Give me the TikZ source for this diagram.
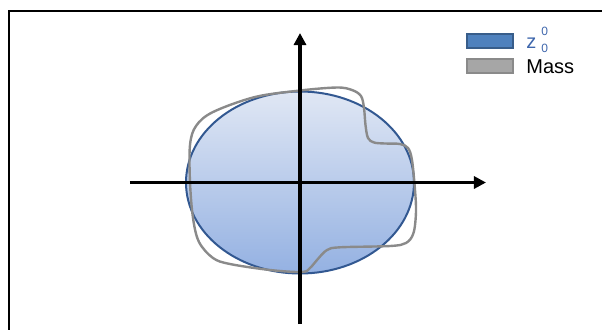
\documentclass[tikz,border=0pt]{standalone}
\usepackage{fontspec}
\setmainfont{Liberation Sans}
\usetikzlibrary{arrows.meta}
\definecolor{ink}{RGB}{0,0,0}
\definecolor{rim}{RGB}{50,88,145}
\definecolor{filltop}{RGB}{224,231,244}
\definecolor{fillbot}{RGB}{148,177,226}
\definecolor{mass}{RGB}{138,138,138}
\definecolor{massfill}{RGB}{166,166,166}
\definecolor{legblue}{RGB}{79,129,189}
\definecolor{legrim}{RGB}{56,93,138}
\definecolor{labblue}{RGB}{62,102,172}
\tikzset{
  every picture/.style={color=ink, font=\fontsize{10}{12}\selectfont},
  frame/.style={draw=ink, line width=1pt},
  axis/.style={-{Triangle[length=6pt,width=6pt]}, line width=1.7pt},
  shape0/.style={draw=rim, line width=1pt, top color=filltop, bottom color=fillbot},
  massline/.style={draw=mass, line width=1.2pt},
  swatch/.style={minimum width=23pt, minimum height=7pt, inner sep=0pt, line width=1pt},
  key/.style={anchor=west, inner sep=0pt},
}
\begin{document}
\begin{tikzpicture}[x=0.5pt, y=-0.5pt]
  \useasboundingbox (0,0) rectangle (602,329);
  % frame (right and bottom edges fall outside)
  \draw[frame] (9.5,340) -- (9.5,11) -- (610,11);
  % z_0^0 region
  \path[shape0] (300,182.5) ellipse [x radius=114, y radius=91];
  % mass outline
  \draw[massline] plot[smooth cycle, tension=0.55] coordinates {
    (300,90.5) (337,87.5) (352,90) (361,96) (364,108) (365.5,125) (368,138)
    (374,142.5) (385,143.5) (400,144) (408,148) (412,160) (415,190) (416,212)
    (413.5,233) (406,243) (390,246) (340,247.3) (327,250) (317,260) (310,268)
    (302,272) (270,270) (230,264) (213,258) (199,242) (193,218) (190,182)
    (190,145) (196,126) (213,112) (255,97)};
  % axes
  \coordinate (xl) at (130,182.5);
  \coordinate (xr) at (486,182.5);
  \coordinate (yb) at (300,324);
  \coordinate (yt) at (300,33);
  \draw[axis] (xl) -- (xr);
  \draw[axis] (yb) -- (yt);
  % legend
  \node[swatch, draw=legrim, fill=legblue] (kz) at (490.3,41.2) {};
  \node[swatch, draw=mass, fill=massfill] (km) at (490.3,66.3) {};
  \node[key, text=labblue] (lz) at (526,40) {z\kern2.5pt\raisebox{-2.4pt}{\fontsize{6}{7}\selectfont\shortstack[l]{0\\[1.6pt]0}}};
  \node[key] (lm) at (526,67) {Mass};
\end{tikzpicture}
\end{document}
